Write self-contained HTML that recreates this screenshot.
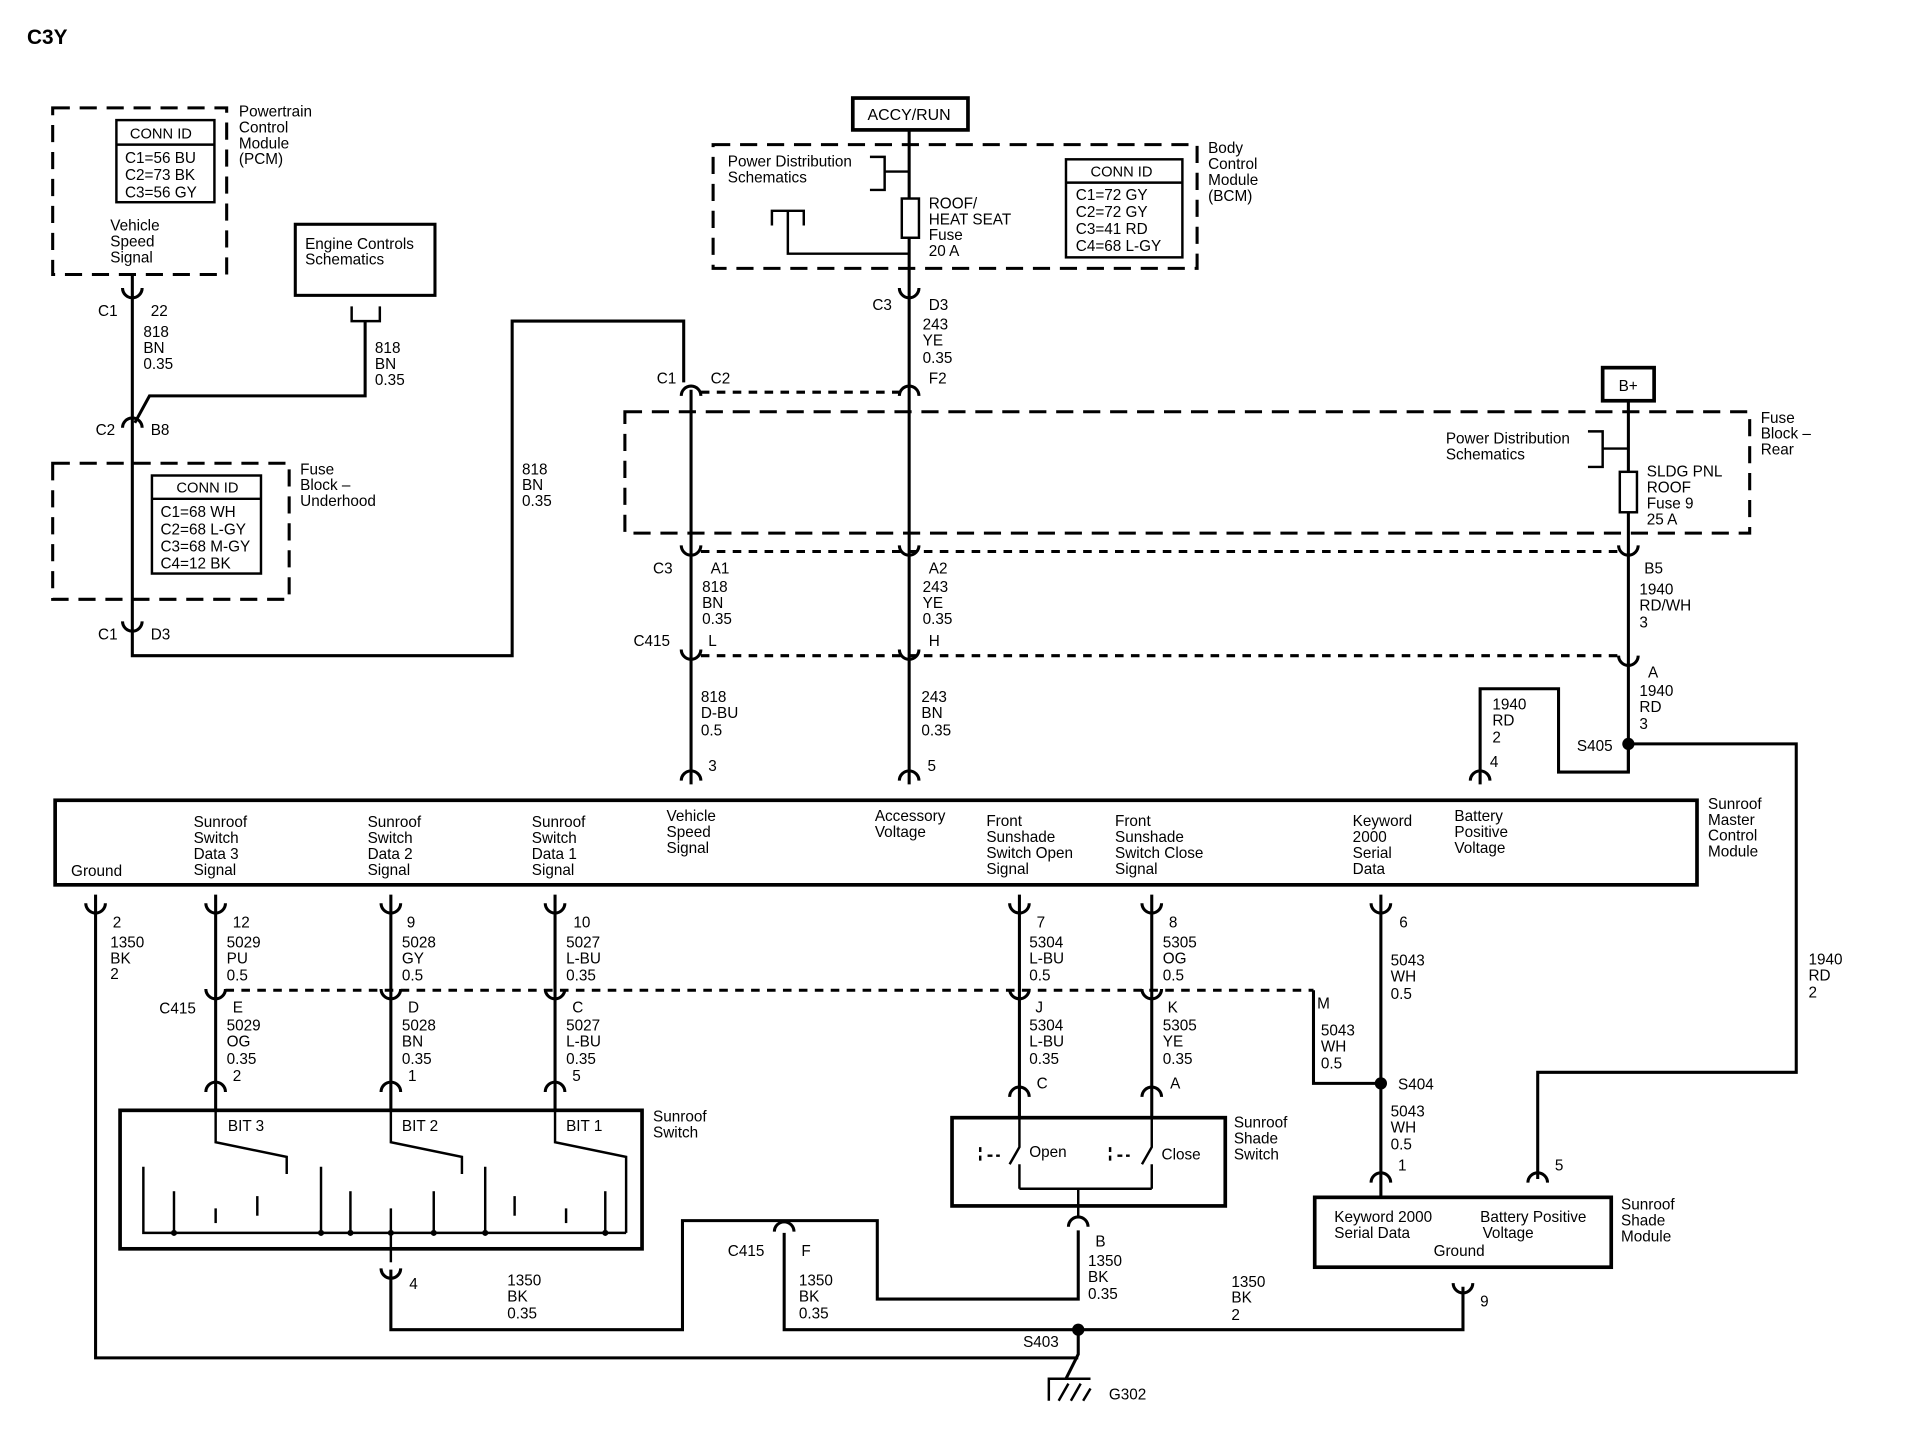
<!DOCTYPE html>
<html><head><meta charset="utf-8"><style>
html,body{margin:0;padding:0;background:#fff;}
svg{display:block;}
text{font-family:"Liberation Sans",Arial,sans-serif;font-size:12.5px;fill:#000;}
</style></head><body>
<svg width="1920" height="1440" viewBox="0 0 1567 1175" preserveAspectRatio="none" xmlns="http://www.w3.org/2000/svg">
<defs>
<path id="cap" d="M-8 5 A8 8 0 0 1 8 5" fill="none" stroke="#000" stroke-width="2.5"/>
<path id="cup" d="M-8 -5 A8 8 0 0 0 8 -5" fill="none" stroke="#000" stroke-width="2.5"/>
</defs>
<g fill="none" stroke="#000" stroke-width="2.5">
<g stroke-dasharray="14,8" stroke-width="2.5">
<rect x="43" y="88" width="142" height="136"/>
<rect x="43" y="378" width="193" height="111"/>
<rect x="582" y="118" width="395" height="101"/>
<rect x="510" y="336" width="918" height="99"/>
</g>
<g stroke-dasharray="7,6" stroke-width="2.5">
<line x1="572" y1="320" x2="734" y2="320"/>
<line x1="572" y1="450" x2="1322" y2="450"/>
<line x1="572" y1="535" x2="1322" y2="535"/>
<line x1="184" y1="808" x2="1072" y2="808"/>
</g>
<rect x="95" y="98" width="80" height="67" stroke-width="2"/><line x1="95" y1="118" x2="175" y2="118" stroke-width="2"/>
<rect x="124" y="388" width="89" height="80" stroke-width="2"/><line x1="124" y1="407" x2="213" y2="407" stroke-width="2"/>
<rect x="870" y="130" width="95" height="80" stroke-width="2"/><line x1="870" y1="149" x2="965" y2="149" stroke-width="2"/>
<rect x="241" y="183" width="114" height="58"/>
<rect x="696" y="80" width="94" height="26" stroke-width="3"/>
<rect x="1308" y="300" width="42" height="27" stroke-width="3"/>
<rect x="45" y="653" width="1340" height="69" stroke-width="3"/>
<rect x="98" y="906" width="426" height="113" stroke-width="3"/>
<rect x="777" y="912" width="223" height="72" stroke-width="3"/>
<rect x="1073" y="977" width="242" height="57" stroke-width="3"/>
<polyline points="108,224 108,535 418,535 418,262 558,262 558,312"/>
<polyline points="298,262 298,323 122,323 110,345"/>
<polyline points="287,250 287,262 310,262 310,250" stroke-width="2"/>
<line x1="742" y1="106" x2="742" y2="640"/>
<line x1="564" y1="318" x2="564" y2="640"/>
<polyline points="710,128 722,128 722,155 710,155" stroke-width="2"/>
<line x1="722" y1="140" x2="742" y2="140" stroke-width="2"/>
<rect x="736" y="162" width="14" height="32" stroke-width="2" fill="#fff"/>
<polyline points="630,184 630,172 656,172 656,184" stroke-width="2"/>
<polyline points="643,172 643,207 742,207" stroke-width="2"/>
<line x1="1329" y1="327" x2="1329" y2="630"/>
<polyline points="1296,352 1308,352 1308,381 1296,381" stroke-width="2"/>
<line x1="1308" y1="366" x2="1329" y2="366" stroke-width="2"/>
<rect x="1322" y="385" width="14" height="33" stroke-width="2" fill="#fff"/>
<polyline points="1329,607 1329,630 1272,630 1272,562 1208,562 1208,640"/>
<polyline points="1329,607 1466,607 1466,875 1255,875 1255,962"/>
<polyline points="78,730 78,1108 880,1108"/>
<line x1="176" y1="730" x2="176" y2="906"/>
<line x1="319" y1="730" x2="319" y2="906"/>
<line x1="453" y1="730" x2="453" y2="906"/>
<line x1="832" y1="730" x2="832" y2="912"/>
<line x1="940" y1="730" x2="940" y2="912"/>
<line x1="1127" y1="730" x2="1127" y2="977"/>
<polyline points="1072,808 1072,884 1127,884"/>
<g stroke-width="2">
<polyline points="176,906 176,932 234,944 234,958"/>
<polyline points="319,906 319,932 377,944 377,958"/>
<polyline points="453,906 453,932 511,944 511,1006"/>
<polyline points="117,952 117,1006 511,1006"/>
<line x1="142" y1="972" x2="142" y2="1006"/>
<line x1="176" y1="986" x2="176" y2="998"/>
<line x1="210" y1="976" x2="210" y2="992"/>
<line x1="262" y1="952" x2="262" y2="1006"/>
<line x1="286" y1="972" x2="286" y2="1006"/>
<line x1="319" y1="986" x2="319" y2="1030"/>
<line x1="354" y1="972" x2="354" y2="1006"/>
<line x1="396" y1="952" x2="396" y2="1006"/>
<line x1="420" y1="976" x2="420" y2="992"/>
<line x1="462" y1="986" x2="462" y2="998"/>
<line x1="494" y1="972" x2="494" y2="1006"/>
<polyline points="832,912 832,936 824,950"/>
<polyline points="940,912 940,936 932,950"/>
<line x1="832" y1="950" x2="832" y2="970"/>
<line x1="940" y1="950" x2="940" y2="970"/>
<polyline points="832,970 940,970"/>
<line x1="880" y1="970" x2="880" y2="992"/>
<path d="M800 936 v14 M806 943 h10 M906 936 v14 M912 943 h10" stroke-dasharray="4,3"/>
</g>
<polyline points="319,1036 319,1085 557,1085 557,996 716,996 716,1060 880,1060 880,1004"/>
<polyline points="640,1006 640,1085 1194,1085 1194,1050"/>
<polyline points="880,1085 880,1105 870,1125"/>
<polyline points="856,1143 856,1125 890,1125" stroke-width="2"/>
<path d="M864 1143 l8 -14 M874 1143 l8 -14 M884 1143 l6 -10" stroke-width="2"/>
</g>
<g fill="#000">
<circle cx="1329" cy="607" r="5"/><circle cx="1127" cy="884" r="5"/><circle cx="880" cy="1085" r="5"/>
<circle cx="142" cy="1006" r="2.5"/><circle cx="262" cy="1006" r="2.5"/><circle cx="286" cy="1006" r="2.5"/><circle cx="319" cy="1006" r="2.5"/><circle cx="354" cy="1006" r="2.5"/><circle cx="396" cy="1006" r="2.5"/><circle cx="494" cy="1006" r="2.5"/>
</g>
<g>
<use href="#cup" x="108" y="240"/><use href="#cap" x="108" y="344"/><use href="#cup" x="108" y="512"/>
<use href="#cup" x="742" y="240"/><use href="#cap" x="742" y="318"/><use href="#cap" x="564" y="318"/>
<use href="#cup" x="564" y="450"/><use href="#cup" x="742" y="450"/><use href="#cup" x="1329" y="450"/>
<use href="#cup" x="564" y="535"/><use href="#cup" x="742" y="535"/><use href="#cup" x="1329" y="540"/>
<use href="#cap" x="564" y="632"/><use href="#cap" x="742" y="632"/><use href="#cap" x="1208" y="632"/>
<use href="#cup" x="78" y="742"/><use href="#cup" x="176" y="742"/><use href="#cup" x="319" y="742"/><use href="#cup" x="453" y="742"/><use href="#cup" x="832" y="742"/><use href="#cup" x="940" y="742"/><use href="#cup" x="1127" y="742"/>
<use href="#cup" x="176" y="812"/><use href="#cup" x="319" y="812"/><use href="#cup" x="453" y="812"/><use href="#cup" x="832" y="812"/><use href="#cup" x="940" y="812"/>
<use href="#cap" x="176" y="886"/><use href="#cap" x="319" y="886"/><use href="#cap" x="453" y="886"/><use href="#cap" x="832" y="890"/><use href="#cap" x="940" y="890"/>
<use href="#cap" x="1127" y="960"/><use href="#cap" x="1255" y="960"/>
<use href="#cap" x="880" y="996"/><use href="#cup" x="319" y="1040"/><use href="#cup" x="1194" y="1052"/>
<use href="#cap" x="640" y="1000"/>
</g>
<text x="22" y="36" style="font-size:17px;font-weight:bold">C3Y</text>
<text x="106" y="113" style="font-size:12px">CONN ID</text>
<text x="102" y="133">C1=56 BU</text><text x="102" y="147">C2=73 BK</text><text x="102" y="161">C3=56 GY</text>
<text x="195" y="95">Powertrain</text><text x="195" y="108">Control</text><text x="195" y="121">Module</text><text x="195" y="134">(PCM)</text>
<text x="90" y="188">Vehicle</text><text x="90" y="201">Speed</text><text x="90" y="214">Signal</text>
<text x="249" y="203">Engine Controls</text><text x="249" y="216">Schematics</text>
<text x="80" y="258">C1</text><text x="123" y="258">22</text>
<text x="117" y="275">818</text><text x="117" y="288">BN</text><text x="117" y="301">0.35</text>
<text x="306" y="288">818</text><text x="306" y="301">BN</text><text x="306" y="314">0.35</text>
<text x="78" y="355">C2</text><text x="123" y="355">B8</text>
<text x="144" y="402" style="font-size:12px">CONN ID</text>
<text x="131" y="422">C1=68 WH</text><text x="131" y="436">C2=68 L-GY</text><text x="131" y="450">C3=68 M-GY</text><text x="131" y="464">C4=12 BK</text>
<text x="245" y="387">Fuse</text><text x="245" y="400">Block –</text><text x="245" y="413">Underhood</text>
<text x="80" y="522">C1</text><text x="123" y="522">D3</text>
<text x="426" y="387">818</text><text x="426" y="400">BN</text><text x="426" y="413">0.35</text>
<text x="708" y="98" style="font-size:13px">ACCY/RUN</text>
<text x="594" y="136">Power Distribution</text><text x="594" y="149">Schematics</text>
<text x="758" y="170">ROOF/</text><text x="758" y="183">HEAT SEAT</text><text x="758" y="196">Fuse</text><text x="758" y="209">20 A</text>
<text x="890" y="144" style="font-size:12px">CONN ID</text>
<text x="878" y="163">C1=72 GY</text><text x="878" y="177">C2=72 GY</text><text x="878" y="191">C3=41 RD</text><text x="878" y="205">C4=68 L-GY</text>
<text x="986" y="125">Body</text><text x="986" y="138">Control</text><text x="986" y="151">Module</text><text x="986" y="164">(BCM)</text>
<text x="712" y="253">C3</text><text x="758" y="253">D3</text>
<text x="753" y="269">243</text><text x="753" y="282">YE</text><text x="753" y="296">0.35</text>
<text x="536" y="313">C1</text><text x="580" y="313">C2</text><text x="758" y="313">F2</text>
<text x="1321" y="319">B+</text>
<text x="1437" y="345">Fuse</text><text x="1437" y="358">Block –</text><text x="1437" y="371">Rear</text>
<text x="1180" y="362">Power Distribution</text><text x="1180" y="375">Schematics</text>
<text x="1344" y="389">SLDG PNL</text><text x="1344" y="402">ROOF</text><text x="1344" y="415">Fuse 9</text><text x="1344" y="428">25 A</text>
<text x="533" y="468">C3</text><text x="580" y="468">A1</text><text x="758" y="468">A2</text><text x="1342" y="468">B5</text>
<text x="573" y="483">818</text><text x="573" y="496">BN</text><text x="573" y="509">0.35</text>
<text x="753" y="483">243</text><text x="753" y="496">YE</text><text x="753" y="509">0.35</text>
<text x="1338" y="485">1940</text><text x="1338" y="498">RD/WH</text><text x="1338" y="512">3</text>
<text x="517" y="527">C415</text><text x="578" y="527">L</text><text x="758" y="527">H</text><text x="1345" y="553">A</text>
<text x="1338" y="568">1940</text><text x="1338" y="581">RD</text><text x="1338" y="595">3</text>
<text x="572" y="573">818</text><text x="572" y="586">D-BU</text><text x="572" y="600">0.5</text>
<text x="752" y="573">243</text><text x="752" y="586">BN</text><text x="752" y="600">0.35</text>
<text x="1218" y="579">1940</text><text x="1218" y="592">RD</text><text x="1218" y="606">2</text>
<text x="1287" y="613">S405</text><text x="1216" y="626">4</text>
<text x="578" y="629">3</text><text x="757" y="629">5</text>
<text x="58" y="715">Ground</text>
<text x="158" y="675">Sunroof</text><text x="158" y="688">Switch</text><text x="158" y="701">Data 3</text><text x="158" y="714">Signal</text>
<text x="300" y="675">Sunroof</text><text x="300" y="688">Switch</text><text x="300" y="701">Data 2</text><text x="300" y="714">Signal</text>
<text x="434" y="675">Sunroof</text><text x="434" y="688">Switch</text><text x="434" y="701">Data 1</text><text x="434" y="714">Signal</text>
<text x="544" y="670">Vehicle</text><text x="544" y="683">Speed</text><text x="544" y="696">Signal</text>
<text x="714" y="670">Accessory</text><text x="714" y="683">Voltage</text>
<text x="805" y="674">Front</text><text x="805" y="687">Sunshade</text><text x="805" y="700">Switch Open</text><text x="805" y="713">Signal</text>
<text x="910" y="674">Front</text><text x="910" y="687">Sunshade</text><text x="910" y="700">Switch Close</text><text x="910" y="713">Signal</text>
<text x="1104" y="674">Keyword</text><text x="1104" y="687">2000</text><text x="1104" y="700">Serial</text><text x="1104" y="713">Data</text>
<text x="1187" y="670">Battery</text><text x="1187" y="683">Positive</text><text x="1187" y="696">Voltage</text>
<text x="1394" y="660">Sunroof</text><text x="1394" y="673">Master</text><text x="1394" y="686">Control</text><text x="1394" y="699">Module</text>
<text x="92" y="757">2</text><text x="90" y="773">1350</text><text x="90" y="786">BK</text><text x="90" y="799">2</text>
<text x="190" y="757">12</text><text x="185" y="773">5029</text><text x="185" y="786">PU</text><text x="185" y="800">0.5</text>
<text x="332" y="757">9</text><text x="328" y="773">5028</text><text x="328" y="786">GY</text><text x="328" y="800">0.5</text>
<text x="468" y="757">10</text><text x="462" y="773">5027</text><text x="462" y="786">L-BU</text><text x="462" y="800">0.35</text>
<text x="846" y="757">7</text><text x="840" y="773">5304</text><text x="840" y="786">L-BU</text><text x="840" y="800">0.5</text>
<text x="954" y="757">8</text><text x="949" y="773">5305</text><text x="949" y="786">OG</text><text x="949" y="800">0.5</text>
<text x="1142" y="757">6</text><text x="1135" y="788">5043</text><text x="1135" y="801">WH</text><text x="1135" y="815">0.5</text>
<text x="1476" y="787">1940</text><text x="1476" y="800">RD</text><text x="1476" y="814">2</text>
<text x="130" y="827">C415</text><text x="190" y="826">E</text><text x="333" y="826">D</text><text x="467" y="826">C</text><text x="845" y="826">J</text><text x="953" y="826">K</text><text x="1075" y="823">M</text>
<text x="185" y="841">5029</text><text x="185" y="854">OG</text><text x="185" y="868">0.35</text><text x="190" y="882">2</text>
<text x="328" y="841">5028</text><text x="328" y="854">BN</text><text x="328" y="868">0.35</text><text x="333" y="882">1</text>
<text x="462" y="841">5027</text><text x="462" y="854">L-BU</text><text x="462" y="868">0.35</text><text x="467" y="882">5</text>
<text x="840" y="841">5304</text><text x="840" y="854">L-BU</text><text x="840" y="868">0.35</text>
<text x="949" y="841">5305</text><text x="949" y="854">YE</text><text x="949" y="868">0.35</text>
<text x="1078" y="845">5043</text><text x="1078" y="858">WH</text><text x="1078" y="872">0.5</text>
<text x="1141" y="889">S404</text>
<text x="1135" y="911">5043</text><text x="1135" y="924">WH</text><text x="1135" y="938">0.5</text>
<text x="846" y="888">C</text><text x="955" y="888">A</text>
<text x="186" y="923">BIT 3</text><text x="328" y="923">BIT 2</text><text x="462" y="923">BIT 1</text>
<text x="533" y="915">Sunroof</text><text x="533" y="928">Switch</text>
<text x="840" y="944">Open</text><text x="948" y="946">Close</text>
<text x="1007" y="920">Sunroof</text><text x="1007" y="933">Shade</text><text x="1007" y="946">Switch</text>
<text x="1141" y="955">1</text><text x="1269" y="955">5</text>
<text x="1089" y="997">Keyword 2000</text><text x="1089" y="1010">Serial Data</text>
<text x="1208" y="997">Battery Positive</text><text x="1210" y="1010">Voltage</text><text x="1170" y="1025">Ground</text>
<text x="1323" y="987">Sunroof</text><text x="1323" y="1000">Shade</text><text x="1323" y="1013">Module</text>
<text x="894" y="1017">B</text><text x="888" y="1033">1350</text><text x="888" y="1046">BK</text><text x="888" y="1060">0.35</text>
<text x="594" y="1025">C415</text><text x="654" y="1025">F</text>
<text x="652" y="1049">1350</text><text x="652" y="1062">BK</text><text x="652" y="1076">0.35</text>
<text x="334" y="1052">4</text>
<text x="414" y="1049">1350</text><text x="414" y="1062">BK</text><text x="414" y="1076">0.35</text>
<text x="1005" y="1050">1350</text><text x="1005" y="1063">BK</text><text x="1005" y="1077">2</text>
<text x="1208" y="1066">9</text>
<text x="835" y="1099">S403</text><text x="905" y="1142">G302</text>
</svg>
</body></html>
